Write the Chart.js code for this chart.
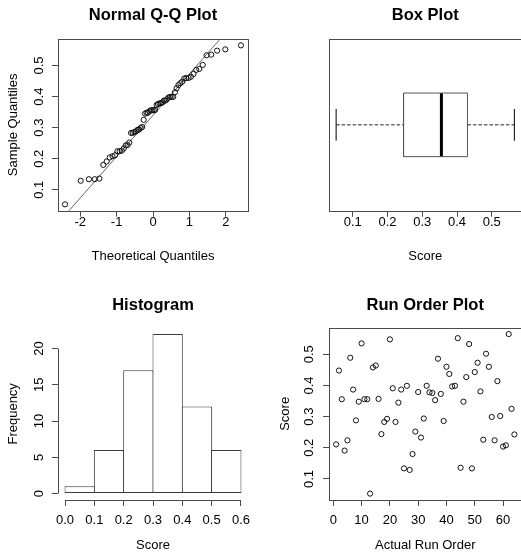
<!DOCTYPE html>
<html>
<head>
<meta charset="utf-8">
<script src="https://cdn.jsdelivr.net/npm/chart.js@4.4.1/dist/chart.umd.min.js"></script>
<style>
html, body { margin:0; padding:0; background:#fff; width:521px; height:556px; overflow:hidden; }
canvas { position:absolute; }
</style>
</head>
<body>
<canvas id="qq" width="260" height="278" style="left:0;top:0"></canvas>
<canvas id="box" width="280" height="278" style="left:260px;top:0"></canvas>
<canvas id="hist" width="260" height="266" style="left:0;top:290px"></canvas>
<canvas id="run" width="280" height="266" style="left:260px;top:290px"></canvas>
<script>
// scores in run order
const runOrder = [1,2,3,4,5,6,7,8,9,10,11,12,13,14,15,16,17,18,19,20,21,22,23,24,25,26,27,28,29,30,31,32,
  33,34,35,36,37,38,39,40,41,42,43,44,45,46,47,48,49,50,51,52,53,54,55,56,57,58,59,60,61,62,63,64]
const scores = [0.211,0.448,0.356,0.191,0.224,0.489,0.387,0.288,0.348,0.535,0.356,0.356,0.053,0.458,0.464,0.357,
  0.244,0.283,0.293,0.548,0.391,0.283,0.345,0.387,0.134,0.399,0.129,0.180,0.252,0.379,0.233,0.294,
  0.399,0.378,0.376,0.353,0.486,0.373,0.286,0.460,0.437,0.397,0.399,0.552,0.136,0.348,0.427,0.533,
  0.134,0.443,0.473,0.381,0.226,0.502,0.460,0.299,0.224,0.414,0.302,0.204,0.208,0.565,0.325,0.243]

// histogram
const histBreaks = [0,0.1,0.2,0.3,0.4,0.5,0.6]
const histCounts = [1,6,17,22,12,6]

// box plot: min, lower hinge, median, upper hinge, max
const boxStats = [0.052,0.246,0.355,0.430,0.565]

// ticks
const qqXTicks = [-2,-1,0,1,2]
const qqXLabels = ['-2','-1','0','1','2']
const scoreTicks = [0.1,0.2,0.3,0.4,0.5]
const scoreLabels = ['0.1','0.2','0.3','0.4','0.5']
const histXTicks = [0,0.1,0.2,0.3,0.4,0.5,0.6]
const histXLabels = ['0.0','0.1','0.2','0.3','0.4','0.5','0.6']
const histYTicks = [0,5,10,15,20]
const histYLabels = ['0','5','10','15','20']
const runTicks = [0,10,20,30,40,50,60]
const runLabels = ['0','10','20','30','40','50','60']

const FONT = "'Liberation Sans', Arial, Helvetica, sans-serif"
const LINE = '#4a4a4a'

// normal quantile (Acklam)
function qnorm(p) {
  const a=[-3.969683028665376e+01,2.209460984245205e+02,-2.759285104469687e+02,1.383577518672690e+02,-3.066479806614716e+01,2.506628277459239e+00]
  const b=[-5.447609879822406e+01,1.615858368580409e+02,-1.556989798598866e+02,6.680131188771972e+01,-1.328068155288572e+01]
  const c=[-7.784894002430293e-03,-3.223964580411365e-01,-2.400758277161838e+00,-2.549732539343734e+00,4.374664141464968e+00,2.938163982698783e+00]
  const d=[7.784695709041462e-03,3.224671290700398e-01,2.445134137142996e+00,3.754408661907416e+00]
  let q, r
  if (p < 0.02425) {
    q = Math.sqrt(-2*Math.log(p))
    return (((((c[0]*q+c[1])*q+c[2])*q+c[3])*q+c[4])*q+c[5])/((((d[0]*q+d[1])*q+d[2])*q+d[3])*q+1)
  }
  if (p > 1-0.02425) return -qnorm(1-p)
  q = p-0.5; r = q*q
  return (((((a[0]*r+a[1])*r+a[2])*r+a[3])*r+a[4])*r+a[5])*q/(((((b[0]*r+b[1])*r+b[2])*r+b[3])*r+b[4])*r+1)
}

function quantile7(sorted, p) {
  const h = (sorted.length-1)*p, lo = Math.floor(h)
  return sorted[lo] + (h-lo)*(sorted[lo+1]-sorted[lo])
}

// R style 4% range extension
const ext = (lo, hi) => { const d = (hi-lo)*0.04; return [lo-d, hi+d] }

const sorted = scores.slice().sort((a,b) => a-b)
const n = sorted.length
const theo = sorted.map((v,i) => qnorm((i+0.5)/n))
const qqPoints = sorted.map((v,i) => ({x: theo[i], y: v}))
const q1 = quantile7(sorted, 0.25), q3 = quantile7(sorted, 0.75)
const slope = (q3-q1)/(qnorm(0.75)-qnorm(0.25))
const inter = q1 - slope*qnorm(0.25)

const xAxis = o => ({
  type:'linear', position:'bottom', min:o.range[0], max:o.range[1], bounds:'data', offset:false,
  afterBuildTicks: s => { s.ticks = o.ticks.map(v => ({value:v})) },
  afterFit: s => { s.height = o.h },
  ticks:{ autoSkip:false, minRotation:0, maxRotation:0, padding:o.pad, color:'#000',
    font:{family:FONT, size:13}, callback:(v,i) => o.labels[i] },
  grid:{ display:true, drawOnChartArea:false, drawTicks:true, tickLength:6, tickColor:LINE, offset:false },
  border:{ display:false },
  title:{ display:true, text:o.title, color:'#000', font:{family:FONT, size:13}, padding:{top:0, bottom:o.tb} }
})

const yAxis = o => ({
  type:'linear', position:'left', min:o.range[0], max:o.range[1], bounds:'data',
  afterBuildTicks: s => { s.ticks = o.ticks.map(v => ({value:v})) },
  afterFit: s => { s.width = o.w },
  ticks:{ autoSkip:false, minRotation:90, maxRotation:90, crossAlign:'center', padding:o.pad, color:'#000',
    font:{family:FONT, size:13}, callback:(v,i) => o.labels[i] },
  grid:{ display:true, drawOnChartArea:false, drawTicks:true, tickLength:6, tickColor:LINE },
  border:{ display:false },
  title:{ display:true, text:o.title, color:'#000', font:{family:FONT, size:13}, padding:{top:o.tp, bottom:0} }
})

const titleOpts = (text, pb) => ({
  display:true, text, fullSize:false, color:'#000',
  font:{family:FONT, size:16.5, weight:'bold'}, padding:{top:5.1, bottom:pb}
})

// box or R style axis lines (only from first to last tick)
const rAxes = {
  id:'rAxes',
  afterDraw(chart, args, opts) {
    const {ctx, chartArea:a, scales} = chart
    ctx.save()
    ctx.strokeStyle = LINE
    ctx.lineWidth = 1
    if (opts.box) {
      ctx.strokeRect(Math.round(a.left)+0.5, Math.round(a.top)+0.5, Math.round(a.right-a.left), Math.round(a.bottom-a.top))
    } else {
      const x = scales.x, y = scales.y
      const yb = Math.round(a.bottom)+0.5, xl = Math.round(a.left)+0.5
      ctx.beginPath()
      ctx.moveTo(x.getPixelForValue(x.ticks[0].value), yb)
      ctx.lineTo(x.getPixelForValue(x.ticks[x.ticks.length-1].value), yb)
      ctx.moveTo(xl, y.getPixelForValue(y.ticks[0].value))
      ctx.lineTo(xl, y.getPixelForValue(y.ticks[y.ticks.length-1].value))
      ctx.stroke()
    }
    ctx.restore()
  }
}
Chart.register(rAxes)
Chart.defaults.animation = false
Chart.defaults.font.family = FONT

const common = (title, pb, box, padRight) => ({
  responsive:false, devicePixelRatio:1,
  layout:{ padding:{left:0, right:padRight, top:0, bottom:0} },
  plugins:{ legend:{display:false}, tooltip:{enabled:false}, title:titleOpts(title, pb), rAxes:{box} }
})

const pointStyle = { pointRadius:2.6, pointBorderWidth:1, pointBorderColor:'#111', pointBackgroundColor:'rgba(0,0,0,0)', showLine:false }

// Normal Q-Q plot
const qqX = ext(theo[0], theo[n-1])
const qqY = ext(sorted[0], sorted[n-1])
new Chart(document.getElementById('qq'), {
  type:'scatter',
  data:{ datasets:[
    { data:qqPoints, ...pointStyle },
    { data:[{x:qqX[0], y:inter+slope*qqX[0]}, {x:qqX[1], y:inter+slope*qqX[1]}],
      showLine:true, borderColor:'#666', borderWidth:1, pointRadius:0 }
  ]},
  options:{ ...common('Normal Q-Q Plot', 14.1, true, 12),
    scales:{
      x:xAxis({range:qqX, ticks:qqXTicks, labels:qqXLabels, h:67.3, pad:-2, title:'Theoretical Quantiles', tb:14.2}),
      y:yAxis({range:qqY, ticks:scoreTicks, labels:scoreLabels, w:58, pad:3.7, title:'Sample Quantiles', tp:5.5})
    }
  }
})

// Box plot (horizontal, R coordinates: box centred at 1)
const [bMin, bQ1, bMed, bQ3, bMax] = boxStats
const BH = 0.2, CH = 0.1
const seg = (pts, extra) => ({ data:pts.map(p => ({x:p[0], y:p[1]})), showLine:true, pointRadius:0, borderWidth:1, borderColor:'#333', ...extra })
new Chart(document.getElementById('box'), {
  type:'scatter',
  data:{ datasets:[
    seg([[bQ1,1-BH],[bQ3,1-BH],[bQ3,1+BH],[bQ1,1+BH],[bQ1,1-BH]], {borderColor:'#555'}),
    seg([[bMed,1-BH],[bMed,1+BH]], {borderWidth:3, borderColor:'#000'}),
    seg([[bMin,1],[bQ1,1]], {borderDash:[3.5,2], borderColor:'#222'}),
    seg([[bQ3,1],[bMax,1]], {borderDash:[3.5,2], borderColor:'#222'}),
    seg([[bMin,1-CH],[bMin,1+CH]], {borderColor:'#000'}),
    seg([[bMax,1-CH],[bMax,1+CH]], {borderColor:'#000'})
  ]},
  options:{ ...common('Box Plot', 14.1, true, 18.5),
    scales:{
      x:xAxis({range:ext(bMin, bMax), ticks:scoreTicks, labels:scoreLabels, h:67.3, pad:-2, title:'Score', tb:14.2}),
      y:{ type:'linear', min:0.46, max:1.54, afterFit: s => { s.width = 69 },
        ticks:{display:false}, grid:{display:false}, border:{display:false} }
    }
  }
})

// Histogram
const histData = histCounts.map((c,i) => ({x:(histBreaks[i]+histBreaks[i+1])/2, y:c}))
new Chart(document.getElementById('hist'), {
  type:'bar',
  data:{ datasets:[{ data:histData, backgroundColor:'#fff', borderColor:'#3a3a3a', borderWidth:1,
    borderSkipped:false, inflateAmount:0, barPercentage:1.034, categoryPercentage:1, grouped:false }]},
  options:{ ...common('Histogram', 12.8, false, 12),
    scales:{
      x:xAxis({range:ext(0, 0.6), ticks:histXTicks, labels:histXLabels, h:56, pad:6.2, title:'Score', tb:3.2}),
      y:yAxis({range:ext(0, 22), ticks:histYTicks, labels:histYLabels, w:58, pad:5.5, title:'Frequency', tp:5.5})
    }
  }
})

// Run order plot
new Chart(document.getElementById('run'), {
  type:'scatter',
  data:{ datasets:[{ data:scores.map((v,i) => ({x:runOrder[i], y:v})), ...pointStyle }]},
  options:{ ...common('Run Order Plot', 12.8, true, 18.5),
    scales:{
      x:xAxis({range:ext(runOrder[0], runOrder[n-1]), ticks:runTicks, labels:runLabels, h:56, pad:6.2, title:'Actual Run Order', tb:3.2}),
      y:yAxis({range:ext(sorted[0], sorted[n-1]), ticks:scoreTicks, labels:scoreLabels, w:69, pad:4.7, title:'Score', tp:17.2})
    }
  }
})
</script>
</body>
</html>
